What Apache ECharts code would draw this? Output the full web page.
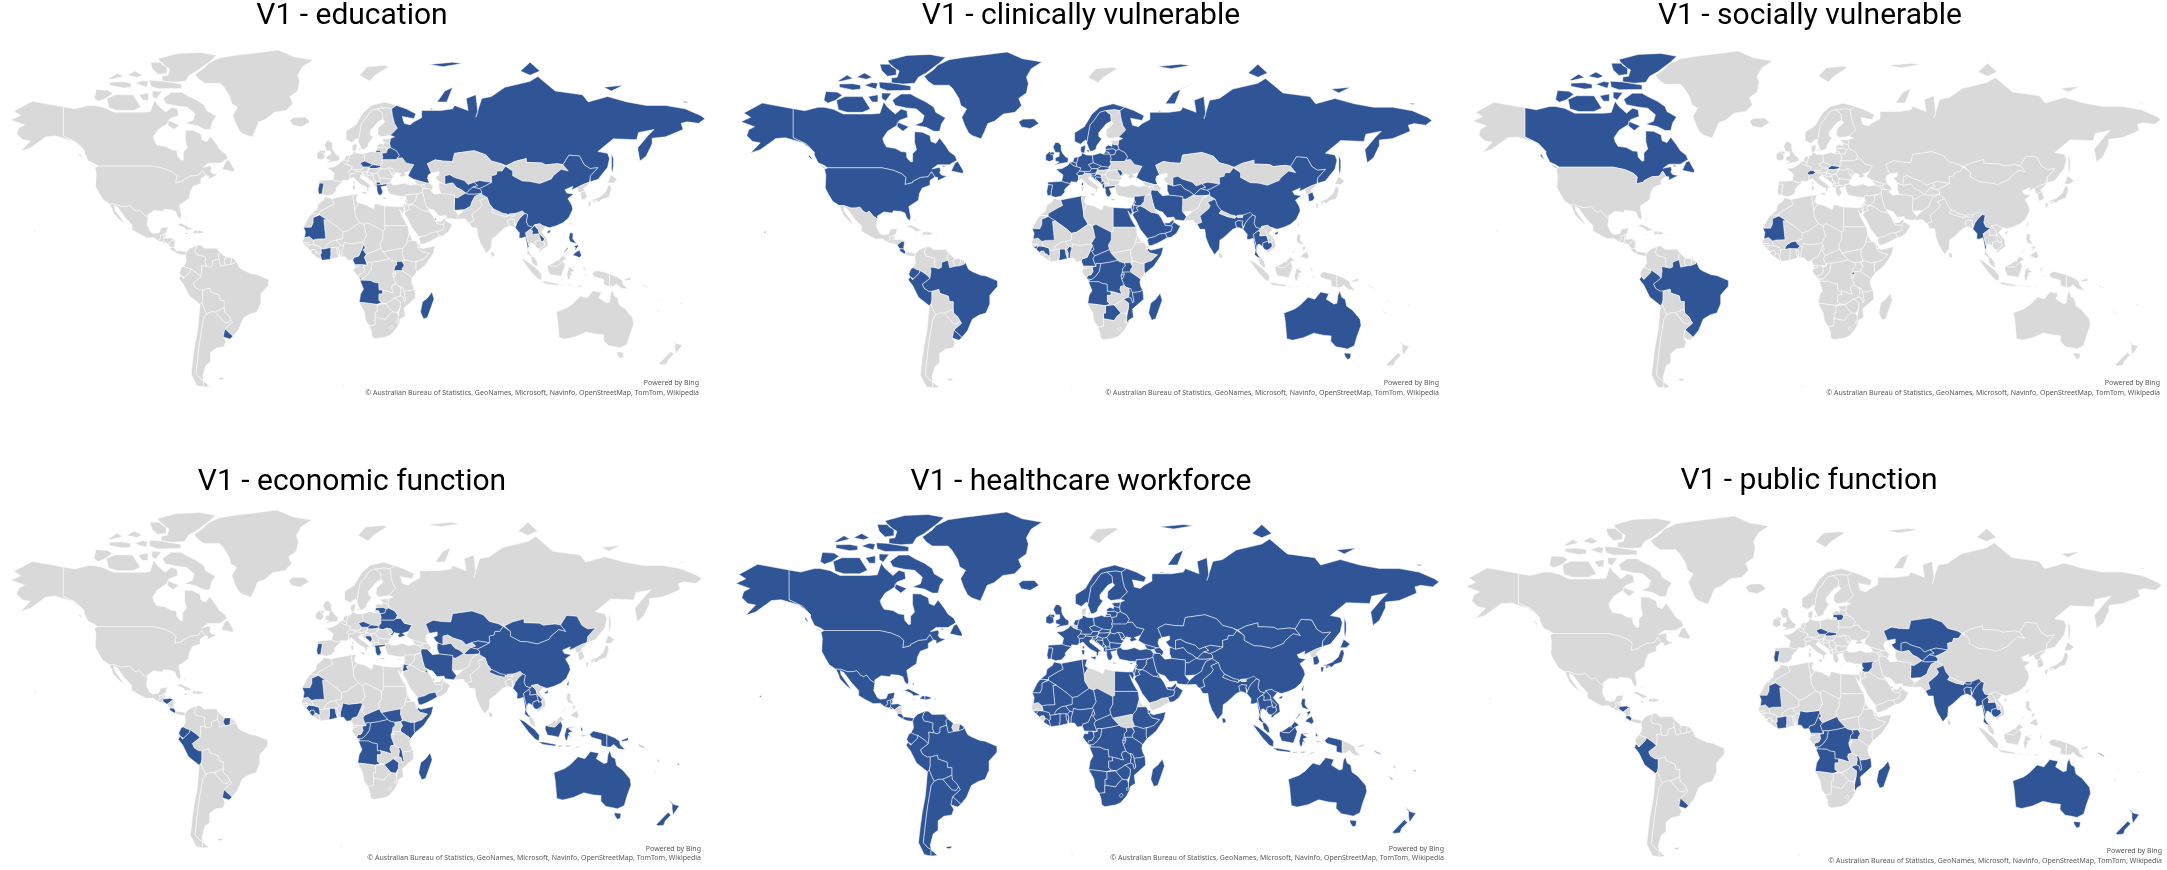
<!DOCTYPE html>
<html><head><meta charset="utf-8">
<style>html,body{margin:0;padding:0;background:#fff}#c{width:2167px;height:870px}</style>
<script src="https://cdn.jsdelivr.net/npm/echarts@6/dist/echarts.min.js"></script>
</head><body><div id="c"></div>
<script>
// ---- values: which countries are highlighted in each panel ----
const titles = ['V1 - education','V1 - clinically vulnerable','V1 - socially vulnerable','V1 - economic function','V1 - healthcare workforce','V1 - public function'];
const education = ['Russia','China','Belarus','Czechia','Slovakia','Greece','North Macedonia','Portugal','Uzbekistan','Kyrgyzstan','Tajikistan','Afghanistan','Qatar','Myanmar','Laos','Philippines','Mauritania','Ivory Coast','Cameroon','Uganda','Angola','Madagascar','Uruguay','Jamaica','Timor-Leste'];
const clinical = ['Canada','Greenland','USA','Iceland','Norway','Sweden','Denmark','UK','Ireland','Portugal','Spain','France','Belgium','Netherlands','Luxembourg','Germany','Poland','Czechia','Slovakia','Austria','Switzerland','Lithuania','Latvia','Belarus','Slovenia','Croatia','Bosnia','Moldova','Montenegro','Albania','Greece','Russia','China','Iran','Turkmenistan','Uzbekistan','Tajikistan','Kyrgyzstan','Israel','Jordan','Syria','Lebanon','Saudi Arabia','Yemen','Oman','UAE','Egypt','Algeria','Mauritania','Guinea-Bissau','Guinea','Ghana','Benin','Chad','Cameroon','CAR','Congo','DRC','Uganda','Rwanda','Burundi','Tanzania','Somalia','Angola','Malawi','Mozambique','Botswana','Madagascar','Myanmar','Thailand','Bangladesh','Cambodia','India','South Korea','Peru','Ecuador','Brazil','Uruguay','Nicaragua','Costa Rica','Australia'];
const social = ['Canada','Switzerland','Slovakia','Mauritania','Burkina Faso','Rwanda','Myanmar','Peru','Brazil'];
const economic = ['Lithuania','Belarus','Ukraine','Czechia','Slovakia','Bosnia','Greece','Portugal','Luxembourg','Kazakhstan','Turkmenistan','Tajikistan','Kyrgyzstan','Iran','Mongolia','China','Nepal','Myanmar','Thailand','Laos','Cambodia','Jordan','Kuwait','Qatar','Yemen','Somalia','Kenya','Mauritania','Guinea','Sierra Leone','Ghana','Nigeria','CAR','South Sudan','DRC','Congo','Angola','Malawi','Zimbabwe','Madagascar','Uruguay','Peru','Ecuador','Suriname','Honduras','Costa Rica','Indonesia','Timor-Leste','PNG','Australia','New Zealand','Solomon Islands','Vanuatu','Fiji','Taiwan','Jamaica','Mauritius'];
const healthcareExcluded = ['Libya','Yemen','South Sudan','Suriname','Senegal','Sierra Leone','Equatorial Guinea','Eritrea','Nicaragua','Svalbard','Belgium','Denmark','North Korea','PNG','Bhutan','Armenia','Bouvet','Qatar'];
const publicFn = ['Lithuania','Czechia','Slovakia','Luxembourg','Portugal','Syria','Kazakhstan','Uzbekistan','Kyrgyzstan','Tajikistan','Afghanistan','India','Myanmar','Thailand','Cambodia','Bangladesh','Bhutan','Qatar','Mauritania','Ivory Coast','Nigeria','Cameroon','CAR','DRC','Congo','Uganda','Angola','Malawi','Mozambique','Madagascar','Peru','Uruguay','Honduras','Costa Rica','Australia','New Zealand','Timor-Leste','Solomon Islands','Jamaica'];
const poweredBy = 'Powered by Bing';
const credit = '© Australian Bureau of Statistics, GeoNames, Microsoft, Navinfo, OpenStreetMap, TomTom, Wikipedia';

// ---- simplified country outlines, lon lat pairs ----
const outlines = {
Canada:['-141 69.6 -135 69 -128 70 -125 70 -120 69.4 -115 68 -110 68 -105 68 -100 68 -96 68.2 -94 71.5 -92 70 -90 69 -88 68 -85 69.5 -82 69 -81.5 67 -86 66 -87 64.5 -92 62.5 -94.5 60 -94 58.7 -92.5 57 -88 56.5 -85 55.3 -82.3 55.1 -82 53 -80 51.3 -79 51.5 -79 54.5 -77 56 -78 58.7 -78 62.3 -74 62.2 -70 61 -69.5 59 -67 58.3 -65 60.2 -62 57.5 -60 55.3 -57 53.7 -56 52 -60 50.2 -66 50.2 -69 48.5 -65 49.2 -64.5 48 -65 47 -64 46 -61 45.5 -60 46 -66 43.6 -66 45 -67.5 45.2 -69.2 47.4 -71 45.3 -75 45 -79 43.3 -79 42.8 -83 42 -82.5 45 -84.5 46.5 -89 48 -95 49 -123 49 -125 50 -128 51 -130 54 -130 55 -134 58 -137 59 -141 60.3',
'-80 73.7 -77 72.8 -72 71.5 -68 70 -67 68.5 -62 66.8 -64 65 -65 62.5 -68 62.5 -72 63.8 -78 64.5 -74 65.5 -73 67.5 -77 69.5 -82 69.8 -88 70.5 -89.5 72 -85 73.7','-90 76.6 -84 76.3 -78 76.5 -76 78 -72 79 -65 81.3 -62 82.5 -70 83.1 -82 82.9 -92 81.8 -90 80.5 -86 79.5 -87 78 -90 77.8','-117.5 69.3 -113 68.5 -105 68.5 -101 69.5 -101.5 70 -105 73 -109 73 -114 73 -118.5 72 -118 70.8','-125 72 -123 71.2 -119 72 -115.5 73.4 -118 74.2 -124 74.4','-96.5 76.8 -90 76.6 -80 75.8 -80 74.7 -92 74.6 -96 75.3','-117 75.5 -110 74.8 -106 75 -106 76 -110 76.4 -117 76.3','-96 81 -90.5 81 -87.5 79.8 -87.5 78.5 -92 78.2 -95 79.5','-95 74 -90 73.9 -93 71.8 -95 72.5','-102 73 -97 73.5 -97 71.5 -100 71.5','-87 65.5 -81 64 -84 62.5 -87 64','-59 47.7 -53 46.7 -52.7 47.7 -55.5 51.5 -57 51','-128 50.5 -123.5 48.4 -125 48.8','-104 79 -100 78 -103 77.5 -108 78','-116 77 -110 77.7 -113 78.5 -118 77','-104 76 -98 75 -97 76.5 -100 76.7','-64 49.5 -61.7 49.2 -63 49.9','-132.5 54 -131.5 53 -131 52 -133 53.5'],
USA:['-123 49 -95 49 -89 48 -84.5 46.5 -82.5 45 -83 42 -79 42.8 -79 43.3 -75 45 -71 45.3 -69.2 47.4 -67.5 45.2 -67 44.8 -70 43.7 -70 41.7 -74 40.5 -75.5 38 -76 35 -78 33.8 -81 32 -80 27 -80.5 25.2 -82 26.5 -83 29 -85 29.7 -89 30 -89.5 29 -94 29.5 -97.3 27.5 -97.2 26 -99.5 27.5 -101.5 29.8 -103 29 -104.5 29.7 -106.5 31.8 -108.2 31.4 -111 31.3 -114.8 32.5 -117.1 32.5 -120.5 34.5 -122.5 37.5 -124.3 40.4 -124 46 -124.7 48.3',
'-141 69.6 -141 60.3 -137 59 -134 58 -130 55 -133 57 -136 58.5 -145 60.3 -150 60 -152 59 -158 56 -163 54.8 -158 58.5 -162 59 -165 61 -164 63 -161 64 -168 65.6 -163 67 -166.5 68.3 -157 71.2 -150 70.5','-156 19 -155 19.5 -155.7 20.2 -156.1 20'],
Greenland:['-73 78.2 -71 77 -68 76 -60 76 -58 75 -55 72.5 -54 70.5 -51 69.5 -53.5 67 -52 64.5 -50 62 -48 61 -43.5 59.9 -42 62 -40 65 -36.5 65.8 -32 68 -26 68.5 -22.5 70.5 -24 72.5 -20 74 -19 76.5 -20 78 -17.5 80 -12 81.5 -22 82.2 -30 83.6 -42 83 -52 82.5 -60 82 -66 80.8 -68 79.8'],
Mexico:['-117.1 32.5 -114.8 32.5 -111 31.3 -108.2 31.4 -106.5 31.8 -104.5 29.7 -103 29 -101.5 29.8 -99.5 27.5 -97.2 26 -97.8 22.5 -96 19 -94.5 18.2 -91.5 18.5 -90.5 21 -87 21.5 -87.7 18.5 -88.3 18.4 -89.2 17.8 -91 17.3 -90.5 16 -92.2 14.5 -94.5 16.2 -98 16 -102 18 -105.5 20 -105.5 22.5 -109 26 -113 31 -114.8 31.8 -114.5 30 -110 24 -109.5 23 -112 25 -115 28 -116 30.5'],
Guatemala:['-92.2 14.5 -90.5 16 -91 17.3 -89.2 17.8 -89 15.9 -88.2 15.7 -89.3 14.4 -90 13.8'],Belize:['-89.2 17.8 -88.3 18.4 -88.2 16.2 -89 15.9'],Honduras:['-89 15.9 -88.2 15.7 -85.5 16 -83.2 15 -84.8 14.7 -87 13 -87.8 13.4 -89.3 14.4'],'El Salvador':['-90 13.8 -89.3 14.4 -87.8 13.4 -88.5 13.2'],Nicaragua:['-87 13 -84.8 14.7 -83.2 15 -83.7 11 -85.7 11.1'],'Costa Rica':['-85.7 11.1 -83.7 11 -82.6 9.5 -83 8.3 -85.7 10'],Panama:['-83 8.3 -82.6 9.5 -80 9.2 -77.4 8.7 -77.9 7.2 -80 7.3 -81.5 7.7'],
Cuba:['-85 22 -80 23.2 -75 20.8 -74.2 20.2 -77.5 19.9 -78.5 21 -82 22.5'],Haiti:['-74.4 18.4 -71.7 18 -71.7 19.7 -73 19.9'],'Dominican Rep':['-71.7 19.9 -69 19.3 -68.4 18.6 -71 18 -71.7 18'],Jamaica:['-78.3 18.4 -76.2 18 -77.5 17.9'],'Puerto Rico':['-67 18.4 -65.6 18.3 -66.5 17.9'],Bahamas:['-78.2 25.2 -77.2 26.6 -77.5 25'],Trinidad:['-61.6 10.7 -61 10.7 -61 10.1 -61.6 10.1'],
Colombia:['-77.4 8.7 -75.5 10.7 -71.3 12.4 -72.3 11.1 -72.9 9 -72 7.3 -70 7 -67.5 6.2 -67.8 3.5 -67 1.2 -69.8 1.7 -69.5 -0.5 -70 -4.2 -72 -2.3 -75.2 -0.1 -77 0.4 -78.8 1.4 -77.5 3.8 -77.9 7.2'],
Venezuela:['-71.3 12.4 -72.3 11.1 -72.9 9 -72 7.3 -70 7 -67.5 6.2 -67.8 3.5 -67 1.2 -65.5 0.8 -64 1.5 -64 4 -60.7 5.2 -61 7.5 -60 8.5 -62 10.7 -68 10.6 -70 12.2'],
Guyana:['-60 8.5 -61 7.5 -60.7 5.2 -60 2 -59.8 1.3 -57 2 -58 4 -57.2 6'],Suriname:['-57.2 6 -58 4 -57 2 -54.5 2.3 -54 5.9'],'French Guiana':['-54 5.9 -54.5 2.3 -52 3.2 -51.7 4.2'],
Brazil:['-51.7 4.2 -52 3.2 -54.5 2.3 -57 2 -59.8 1.3 -60 2 -60.7 5.2 -64 4 -64 1.5 -65.5 0.8 -67 1.2 -69.8 1.7 -69.5 -0.5 -70 -4.2 -74 -7.3 -73 -9.5 -70.6 -11 -69 -11 -65.4 -10 -65 -12 -60.5 -13.5 -60 -16.3 -58 -16.3 -58 -20 -57.8 -22 -55.5 -24 -54.6 -25.6 -53.7 -27 -57.6 -30.2 -53.4 -33.7 -50.5 -30.5 -48.5 -26 -48 -25 -44.5 -23 -41 -22 -39 -17.5 -39 -13 -35 -8.5 -35 -5.5 -37.5 -4.5 -41 -3 -44 -2.5 -48.5 -0.5 -50 0.5'],
Ecuador:['-78.8 1.4 -77 0.4 -75.2 -0.1 -75.5 -1.5 -78.5 -4.5 -79 -5 -80.3 -3.4 -81 -2 -80 0.5'],Peru:['-75.2 -0.1 -72 -2.3 -70 -4.2 -74 -7.3 -73 -9.5 -70.6 -11 -69 -11 -69 -15.5 -69.5 -17.5 -70.4 -18.3 -76 -14 -79 -8 -81.3 -5 -80.3 -3.4 -79 -5 -78.5 -4.5 -75.5 -1.5'],
Bolivia:['-69 -11 -65.4 -10 -65 -12 -60.5 -13.5 -60 -16.3 -58 -16.3 -58 -20 -62.6 -22 -65 -22 -67 -23 -68.5 -20 -69.5 -17.5 -69 -15.5'],
Chile:['-69.5 -17.5 -68.5 -20 -67 -23 -68.5 -25 -70 -33 -71 -39 -71.8 -45 -72.5 -50 -70 -52 -68.5 -52.5 -68.6 -55 -72 -54.5 -75 -50 -74 -43 -73 -37 -71.5 -30 -70.4 -18.3'],
Argentina:['-67 -23 -65 -22 -62.6 -22 -58 -27 -55.8 -27.3 -54.6 -25.6 -53.7 -27 -57.6 -30.2 -58.4 -34 -57 -36 -58 -38.5 -62 -39 -65 -41 -65 -45 -67.5 -46.5 -69 -51 -68.5 -52.5 -70 -52 -72.5 -50 -71.8 -45 -71 -39 -70 -33 -68.5 -25','-68.6 -52.7 -65.3 -54.8 -68.6 -55'],
Paraguay:['-62.6 -22 -58 -20 -57.8 -22 -55.5 -24 -54.6 -25.6 -55.8 -27.3 -58 -27'],Uruguay:['-57.6 -30.2 -53.4 -33.7 -55 -35 -58.4 -34'],Falklands:['-61 -51.5 -58 -51.3 -58.5 -52.2 -60.5 -52.2'],
Iceland:['-24 65.5 -22 66.4 -16 66.5 -13.6 65 -18 63.4 -22.5 63.9'],Ireland:['-10 52 -10 54 -8 55.3 -7.3 55 -6.2 54 -6 52.2 -8 51.5'],
UK:['-5.7 50 -3 50.6 1.4 51.2 1.7 52.7 0 53.5 -1.5 55 -2 56 -2 57.6 -3.5 58.6 -5 58.6 -6.2 57 -5 55 -3 55 -3 53.5 -5 53 -5 51.7 -3 51.3','-8 54.5 -7.3 55 -6 55.2 -5.5 54.5 -6.2 54'],
France:['-1.8 43.4 -1 46 -4.7 48.4 -1.5 48.7 1.5 50 2.5 51.1 4.2 50 6 49.5 8.2 49 7.6 47.6 6 46.5 7 45.8 7 44 7.5 43.8 6 43 3 43.2 3.1 42.4 0.7 42.7','8.6 42.5 9.4 43 9.5 42 9.1 41.4 8.6 41.9'],
Spain:['-9 43 -1.8 43.4 0.7 42.7 3.1 42.4 0.7 40.7 -0.3 39.5 0 38.7 -2 36.8 -5 36.3 -6.3 36.7 -7.4 37.2 -7 39.5 -6.5 41.8 -8.8 41.9'],Portugal:['-8.8 41.9 -6.5 41.8 -7 39.5 -7.4 37.2 -9 37 -9.5 38.8'],
Belgium:['2.5 51.1 4 51.4 6 50.8 6 49.5 4.2 50'],Netherlands:['4 51.4 4.8 53 7 53.3 6 50.8'],Luxembourg:['5.7 49.5 6.5 49.5 6.1 50.2'],Germany:['6 50.8 7 53.3 8.5 53.8 8.7 54.9 11 54 14.2 53.9 14.7 51 12.2 50.3 13.8 48.7 13 47.5 7.6 47.6 8.2 49 6 49.5'],
Switzerland:['6 46.5 7.6 47.6 9.6 47.5 10.4 46.8 9 45.9 7 45.8'],Austria:['9.6 47.5 13 47.5 13.8 48.7 17 48.7 16.2 46.9 13.7 46.5 10.4 46.8'],
Italy:['7 44 7 45.8 9 45.9 10.4 46.8 13.7 46.5 13.6 45.6 12.3 45 12.4 44.2 13.6 43.5 16 42 18.5 40.2 16.9 40.4 16.6 38.9 15.8 38 15.7 40 12.5 41.4 10.5 42.9 8.8 44.4 7.5 43.8','12.4 38 15.6 38.2 15.1 36.7','8.2 41 9.7 41 9.5 39.1 8.5 39'],
Denmark:['8.1 55.5 8.7 54.9 10 54.8 10.5 56.3 10.6 57.7 8.2 57','11 55.7 12.5 56 12.3 55'],Norway:['5 59 5 62 10 64 14 68 18 70 25 71 31 70 28.5 69 25.7 69.3 21 69 18 68.5 15 66 13 64.5 12 61 11.5 59 10.6 59.5 8 58'],
Svalbard:['12 78 16 80 25 80.3 27 80 20 78 17 76.6'],
Sweden:['11.5 59 12 61 13 64.5 15 66 18 68.5 21 69 23.7 67.8 24 65.8 21.5 65 17.5 62 17.5 60.7 19 59.9 16.5 57.5 16 56.2 14.3 55.5 13 55.4 11.2 58.5'],
Finland:['21 69 25.7 69.3 28.5 69 29 66.9 30 64.5 31.5 62.9 27.8 60.5 23 60 21.3 61 21.5 63 25 65 24 65.8 23.7 67.8'],
Estonia:['23.5 59.2 28 59.4 27.5 57.6 25 57.9 24.4 58.3'],Latvia:['21 57 22.6 57.7 24.4 57.2 24.4 58.3 25 57.9 27.5 57.6 28 56.1 26.5 55.7 25 56.3 21 56.1'],Lithuania:['21 56.1 25 56.3 26.5 55.7 25.8 54.2 23.5 54 22.8 54.4 22.8 55 21 55.2'],
Poland:['14.2 53.9 18.5 54.8 19.5 54.4 22.8 54.4 23.5 54 24 52.6 23.5 51.5 24 50.5 22.7 49.2 19 49.4 18.8 49.6 14.7 51'],
Belarus:['23.5 54 25.8 54.2 26.5 55.7 28 56.1 31 55 32.5 53.3 31.5 52.1 30.7 51.5 23.5 51.5 24 52.6'],
Ukraine:['24 50.5 23.5 51.5 30.7 51.5 31.5 52.1 34 52.3 36 50.3 40 49.6 38.2 47.1 35 46.2 36.5 45.3 33.5 44.5 32.5 45.4 33.5 46 30.8 46.5 29.7 45.3 28.3 45.5 30 46.5 29 48 26.7 48.3 24.9 47.7 22.8 48 22.7 49.2'],
Moldova:['26.7 48.3 29 48 30 46.5 28.3 45.5 28 46.5'],Czechia:['12.2 50.3 14.7 51 18.8 49.6 17 48.7 13.8 48.7'],Slovakia:['17 48.7 18.8 49.6 19 49.4 22.7 49.2 22.8 48.4 20 48 17.2 48'],
Hungary:['16.2 46.9 17.2 48 20 48 22.8 48.4 21 46.2 18.8 45.9 16.6 46.5'],Slovenia:['13.7 46.5 16.2 46.9 16.6 46.5 15.5 45.6 13.6 45.6'],
Croatia:['13.6 45.6 15.5 45.6 16.6 46.5 18.8 45.9 19 45 16 45.2 15.8 44.5 18.5 42.5 15 44.5 14.5 45.2 13.6 44.9'],Bosnia:['16 45.2 19 45 19.3 43.5 18.5 42.5 15.8 44.5'],
Serbia:['19 45 18.8 45.9 21 46.2 22.5 44.2 22.5 42.3 20.5 42.3 20.5 42.8 19.3 43.5'],Montenegro:['19.3 43.5 20.5 42.8 19.3 41.9 18.5 42.5'],'North Macedonia':['20.5 42.3 22.5 42.3 23 41.3 20.5 41'],
Albania:['19.3 41.9 20.5 42.5 20.5 41 20.9 40 19.4 40.5'],Greece:['20.9 40 20.5 41 23 41.3 26.2 41.7 26 40.8 23 40.3 24 38 23 36.5 21.7 36.8 21 38.4','23.6 35.5 26.3 35.2 24.8 35'],
Bulgaria:['22.5 44.2 28.5 43.7 27.8 42 26.2 41.7 23 41.3 22.5 42.3'],Romania:['21 46.2 22.8 48 24.9 47.7 26.7 48.3 28 46.5 28.3 45.5 29.7 45 28.5 43.7 22.5 44.2'],
Turkey:['26 40.8 26.2 41.7 28 42 29.2 41.2 31.5 41.2 35 42 38 41 41.5 41.5 43.5 41 44.8 39.7 44.5 37.8 42.3 37.2 38 36.8 36 36.8 36 36 32.5 36.1 30.5 36.5 27.5 37 26.2 39.3'],Cyprus:['32.3 35 34.5 35.6 33.5 34.7'],
Russia:['28 59.4 30 60 27.8 60.5 31.5 62.9 30 64.5 29 66.9 28.5 69 31 70 36 69 41 67.5 40 66 34 66.7 35 64.5 38 64 40 65 44 66.3 44 68.5 54 68.5 60 69 61 70 68 68.5 67 72 72 73 73 68 72 66.5 75 72 80 72.5 87 75 100 76.5 104 77.7 113 74 127 73 130 71 140 72.5 150 71 160 70 170 70 180 69 188 67 190.3 66 187 64.5 181 65 178 64.5 179 62.5 170 60 163 59.5 163 57.5 160 53 156.7 51 155.5 56 161 60.5 164 62.5 156 61.5 155 59 143 59.3 135 54.7 140 54 141 52 140 48.5 135 43.5 131 42.5 130.7 42.3 131 44.8 135 48.4 131 48 128 49.5 125.5 53 120 53.3 117 49.6 114 50 108 49.5 106 50.3 98 50.5 98 52 92 50.8 87.8 49.2 87.3 49 85 50 80 51 77 53.5 71 55 61 54 60 50.8 55 51 51 51.5 47 50 49 46.2 47.5 45.5 47 44 48 42 46.5 41.9 43.5 42.6 40 43.5 37 45 38.2 47.1 40 49.6 36 50.3 34 52.3 31.5 52.1 32.5 53.3 31 55 28 56.1 27.5 57.6',
'142 54 143 52 143 49 142.5 46 142 48 142 51','52 71 56 74 68 76.8 60 75 57 71','95 79 100 81 105 79 100 78','138 75 148 75.5 142 74','178.5 71.2 182 71 180 70.8','48 80.5 60 81 65 80.7 55 80','20 54.4 22.8 54.4 22.8 55 21 55.2','48 69 50 69 49 68.7'],
Kazakhstan:['47 50 51 51.5 55 51 60 50.8 61 54 71 55 77 53.5 80 51 85 50 87.3 49 85.5 47 83 47 82.5 45.5 80 45 80.2 42.2 74 43 71 42.3 68 41.3 66 43 61 44.3 58.5 45.5 56 45 56 41.3 54 42 52.5 42.8 51 44.5 53 45.3 53 46.8 49 46.2'],
Uzbekistan:['56 45 58.5 45.5 61 44.3 66 43 68 41.3 71 42.3 73 40.8 70.5 40.2 68 38.3 67 37.3 64.5 39 62 40 60 42 56 41.3'],Turkmenistan:['53 42 54 42 56 41.3 60 42 62 40 64.5 39 67 37.3 66.5 37.4 62.5 35.3 61 35.6 61 36.6 54 37.3 53 39.5'],
Tajikistan:['68 38.3 70.5 40.2 73.8 39.5 75 38.5 74.8 37.3 71.5 37 68 37 67 37.3'],Kyrgyzstan:['71 42.3 74 43 80.2 42.2 76 40.3 73.8 39.5 70.5 40.2 73 40.8'],
Afghanistan:['61 35.6 62.5 35.3 66.5 37.4 68 37 71.5 37 74.8 37.3 71.5 36 70 33.5 69.3 31.5 66.4 29.9 61 29.5 60.8 30.5 61 33.5'],
Pakistan:['61 29.5 61.6 25.2 66.5 25.4 67.5 24 68.5 23.5 71 24.5 70 27.5 74.5 31 75.3 32.4 74 34 77.8 35.5 74.8 37.3 71.5 36 70 33.5 69.3 31.5 66.4 29.9 63 27.2'],
Iran:['44.8 39.7 48 39.5 49 38.4 50.5 37 54 37.3 61 36.6 61 35.6 61 33.5 60.8 30.5 61 29.5 63 27.2 61.6 25.2 57 25.7 56.5 27 53 26.7 50.5 29.5 48.5 30 46.5 31 45.5 34 44.5 37.8'],
Iraq:['42.3 37.2 44.5 37.8 45.5 34 46.5 31 48.5 30 47.5 30 46.5 29.1 44.7 29.2 41 31.5 39 32.3 41 34.5 41.2 36.5'],Syria:['36 36.8 38 36.8 42.3 37.2 41.2 36.5 41 34.5 39 32.3 36.8 32.4 35.8 33.3 36.6 34.3 36 34.7 35.9 35.5'],
Lebanon:['35.1 33.1 35.8 33.3 36.6 34.3 36 34.7'],Israel:['34.3 31.3 35.1 33.1 35.7 32.7 35.5 31.5 35 29.5'],Jordan:['35.7 32.7 36.8 32.4 39 32.3 37 31.5 38 30 36 29.3 35 29.5 35.5 31.5'],
'Saudi Arabia':['36 29.3 38 30 37 31.5 39 32.3 41 31.5 44.7 29.2 46.5 29.1 48.4 28.5 50 26.5 51 24.6 52 23 55.2 22.7 55.7 22 55 20 52 19 49 18.6 46.5 17.3 43.3 16.5 42.7 16.5 39 21 37 25 35 28'],
Kuwait:['46.5 29.1 47.5 30 48.4 28.5'],Qatar:['50.8 24.8 51.2 26 51.6 25'],UAE:['51.6 24.2 54 24.1 56.3 26 56.4 24.6 55.2 22.7 52 23'],Oman:['56.4 24.6 59.8 22.5 57.8 19 55 17 53 16.7 52 19 55 20 55.7 22 55.2 22.7'],Yemen:['43.3 16.5 46.5 17.3 49 18.6 52 19 53 16.7 48 14 45 12.8 43.5 12.7 42.7 15.5'],
Georgia:['40 43.5 43.5 42.6 46.5 41.9 45 41.2 43.5 41 41.5 41.5'],Armenia:['43.5 41 45 41.2 46.5 39.5 44.8 39.7'],Azerbaijan:['45 41.2 46.5 41.9 48 42 50 40.3 49 38.4 48 39.5 46.5 39.5'],
Mongolia:['87.8 49.2 92 50.8 98 52 98 50.5 106 50.3 108 49.5 114 50 117 49.6 119.7 47 116 47.7 112 45 111 43.7 105 41.7 100 42.6 96 42.8 91 45 91 47'],
China:['73.8 39.5 76 40.3 80.2 42.2 80 45 82.5 45.5 83 47 85.5 47 87.3 49 87.8 49.2 91 47 91 45 96 42.8 100 42.6 105 41.7 111 43.7 112 45 116 47.7 119.7 47 117 49.6 120 53.3 125.5 53 128 49.5 131 48 135 48.4 131 44.8 130.7 42.3 128 41.5 124.3 40 121.5 39 122 40.5 118 39 119 37.5 122.5 37 119.5 35 121.5 32 122 30 120 26 117 23.5 113.5 22 110 21 108 21.6 106.5 22 105 23 102 22.4 101.5 21.2 99 22 98 24 98.7 27.5 96 28.5 92 28 89 27.3 86 28 81 30.2 79 32.5 77.8 35.5 75 37 74.8 37.3 75 38.5','108.7 19 110.5 20 110.5 18.7 109 18.3'],
Taiwan:['120.2 23 121.5 25.2 121 22'],'North Korea':['124.3 40 128 41.5 130.7 42.3 129.7 41 127.5 39.5 128.3 38.6 126 37.8 125 38'],'South Korea':['126 37.8 128.3 38.6 129.4 36 128.5 34.8 126.5 34.4'],
Japan:['131 34 136 35.7 139 38 140.3 41 141.5 41 142 39.5 140.7 35.7 137 34.6 135.7 33.5 132 34','140 42 141.7 45.5 145 43.5 143 42','130 33.5 131.7 33.5 131 31.2 130.2 31.3','132.5 34 134.5 34.2 134 33.4 133 32.8'],
India:['74 34 77.8 35.5 79 32.5 81 30.2 80 28.8 84 27.3 88.1 26.4 88.8 27.3 89.8 26.8 92 26.8 92 27.8 96 29.3 97.3 28 95 26 93.5 24 92.7 22 91.8 24 92.3 25 89.8 25.3 88.3 24.5 89 21.8 87 21 82.5 17 80.3 15.5 80 11 77.5 8 74.5 13 73 17 72.5 21 70 21 68.5 23.5 71 24.5 70 27.5 74.5 31 75.3 32.4'],
Nepal:['80 28.8 81 30.2 86 28 88.1 27.8 88.1 26.4 84 27.3'],Bhutan:['88.8 27.3 89.3 27.9 92 28 92 26.8 89.8 26.8'],Bangladesh:['88.3 24.5 89.8 25.3 92.3 25 91.8 24 92.3 21 90 21.9 89 21.8'],'Sri Lanka':['79.8 9 81.3 8.5 81.8 7 80.5 6 79.8 7.5'],
Myanmar:['92.3 21 92.7 22 93.5 24 95 26 97.3 28 98.7 27.5 98 24 99 22 101.5 21.2 100.2 20.3 97.7 18.5 98.5 15 99.5 11.5 98.7 10 98.5 12 97.6 16.5 95.5 15.8 94.3 16 94.5 18.5'],
Thailand:['100.2 20.3 101.3 19.5 101 17.7 104.5 18 105.5 15 102.7 14.2 102.5 12.2 100.9 13.4 100 13.3 99.2 9.5 100.5 7.3 102 6.2 100.2 6.5 98.3 8 98.7 10 99.5 11.5 98.5 15 97.7 18.5'],
Laos:['100.2 20.3 101.5 21.2 102 22.4 104.3 20 104.8 18 107.5 15.5 107 14.3 105.5 14 105.5 15 104.5 18 101 17.7 101.3 19.5'],
Vietnam:['102 22.4 105 23 106.5 22 108 21.6 105.8 19 108.8 15.5 109.3 12 106.7 10.3 105 8.7 104.7 10.4 106 11 107.5 12.5 107 14.3 107.5 15.5 104.8 18 104.3 20'],Cambodia:['102.5 12.2 102.7 14.2 105.5 15 105.5 14 107 14.3 107.5 12.5 106 11 104.7 10.4 103.5 10.7'],
Malaysia:['100.2 6.5 102 6.2 103.5 4 104 1.4 103 1.5 101 3.3','109.6 2 111 1.5 114 1.2 117 4.2 119 5.2 116.8 7 115.1 5 114 4.5 111.5 2.8'],Brunei:['114 4.5 115.1 5 115.1 4.1'],
Indonesia:['95.3 5.6 98 4.3 103.5 0 106 -3 105.8 -5.8 104 -5.2 100.5 -1.5 97.5 2.5','105.5 -6.5 108 -6.5 114.5 -7.7 114.5 -8.6 108 -7.8','109 1.5 109.6 2 111 1.5 114 1.2 117 4.2 118 2 117.5 0 116 -4 114 -3.5 110.2 -2.9 109 0','119.5 -5.5 119 -3 120 0.8 125 1.5 121 0.4 123.3 -1 121 -1.8 122.5 -4.5 121 -3 120.4 -5.5','132 -2.5 134 -0.8 138 -1.7 141 -2.6 141 -9.1 138 -8.3 138 -5.5 133 -4','116 -8.4 119 -8.3 119 -8.8 116 -8.9','120 -8.3 123 -8.3 123 -8.8 120 -8.9','123.5 -10.3 125 -9 125 -9.4 124 -10.2','127.5 1.7 128.5 0 128 -1 127.5 0','128 -3 130.8 -3.3 128 -3.5'],
'Timor-Leste':['125 -9 127.3 -8.4 125 -9.4'],Philippines:['120.5 18.5 122.2 18.4 122 15.5 124 13 120.7 14 120 16','122 7 123.5 8.6 125.5 9.7 126.5 7 125.5 5.7 124 6.5','122.5 11.5 123.5 11 123 9.3 125 11.8 125.5 10.5 124.5 12.5','117.2 8.4 119.5 11.3 119.5 10.5 117.5 8.3'],
PNG:['141 -2.6 145 -4.3 147.5 -6 148 -8 150.5 -10.5 147 -10 144.5 -7.7 143 -9 141 -9.1','148.5 -5.6 152 -4.2 152 -5.7 149 -6.2'],'Solomon Islands':['157 -7.5 160 -9 161 -10 158 -8.5'],Vanuatu:['167 -15 167.8 -16 168.3 -17 167.3 -16'],Fiji:['177.3 -17.5 178.7 -17.7 178 -18.3'],'New Caledonia':['164 -20.2 167 -22 166.3 -22.2'],
'New Zealand':['172.7 -34.5 175.5 -37 178.5 -37.7 175.3 -41.6 174.8 -39 174.8 -37','172.7 -40.6 174.2 -41.7 171.2 -44.3 170.5 -46 167.5 -46.3 166.5 -45.8 171 -42'],
Australia:['113.5 -22 114.2 -26 115 -34.3 118 -35 123.5 -33.9 129 -31.7 134 -32.7 138 -33 137.8 -35.5 140.5 -38 144 -38.5 146.5 -39 150 -37.5 151.5 -33 153.5 -28 153 -25 149 -20.5 146 -18.5 145.3 -15 143.5 -14 142.5 -10.8 141.5 -13 141 -17 139.5 -17.5 135.5 -15 136.8 -12.2 132.5 -11.3 129.5 -15 126 -14 122 -18 119 -20 114 -21.8','144.7 -40.7 148.3 -41 148 -43 146.5 -43.6 145.2 -42.2'],
Morocco:['-5.9 35.8 -2.2 35.1 -1.2 32.5 -3.5 31.5 -8.7 28.7 -8.7 27.7 -13 27.7 -10 30 -9.5 32.5 -6.7 34.3'],'Western Sahara':['-13 27.7 -8.7 27.7 -8.7 27.3 -12 26 -12 23.5 -13 21.3 -17 21.3 -14.5 26'],
Algeria:['-2.2 35.1 9 37 8.5 36 9.5 30 9.8 27 12 23.5 6 19.5 3.3 19 1 21 -4.8 25 -8.7 27.3 -8.7 28.7 -3.5 31.5 -1.2 32.5'],Tunisia:['9 37 11 37 10 34 11.5 33 9.5 30 8.5 36'],Libya:['11.5 33 15 32.3 19 30.3 20 32.7 25 31.6 25 20 24 19.5 16 23.5 14.2 22.6 12 23.5 9.8 27 9.5 30'],
Egypt:['25 31.6 32 31.2 34.3 31.3 34.9 29.5 34.2 27.8 32.6 30 33.8 27 35.5 24 36.9 22 25 22'],Sudan:['25 22 36.9 22 37.5 18 36.5 14.3 36 12.7 34.2 10.5 33 10.5 28 9.5 24 8.7 23 10.7 22.5 13 24 15.7 24 19.5 25 20'],
'South Sudan':['24 8.7 28 9.5 33 10.5 34.2 10.5 34 8 35 5 33.8 4 30.8 3.7 28 4.5 27.3 5.2'],Eritrea:['36.5 14.3 37.5 18 39 15.3 43 12.5 41 14.5 38.5 14.4'],Djibouti:['42 12.7 43.3 12.5 43.2 11.3 42 11'],
Ethiopia:['36.5 14.3 38.5 14.4 41 14.5 42 12.7 42 11 43.2 11.3 42.7 10.5 44 9 48 8 45 5 42 4 39.5 3.5 35.9 4.6 35 5 34 8 34.2 10.5 36 12.7'],Somalia:['43.2 11.3 44.5 10.4 51 11.9 50 8 46 2 41.5 -1.7 41 -0.5 41 3.9 42 4 45 5 48 8 44 9 42.7 10.5'],
Kenya:['35.9 4.6 39.5 3.5 42 4 41 3.9 41 -0.5 41.5 -1.7 39.2 -4.7 37.7 -3.5 34 -1 33.9 0.1 35 1.9 34 4.2'],Uganda:['30.8 3.7 33.8 4 35 1.9 33.9 0.1 34 -1 30.5 -1 29.6 -1.4 30 1 31.2 2.2'],Rwanda:['29.6 -1.4 30.5 -1 30.8 -2.3 29 -2.7'],Burundi:['29 -2.7 30.8 -2.3 30 -4.3 29.3 -4.4'],
Tanzania:['30.5 -1 34 -1 37.7 -3.5 39.2 -4.7 38.8 -6.5 39.5 -9 40.4 -10.5 38 -11.3 34.9 -11.6 34 -9.5 32 -9 30.7 -8 29.3 -4.4 30 -4.3 30.8 -2.3'],
DRC:['12.2 -6 13 -5.9 12.3 -5.7 13 -4.7 14 -4.7 16 -3 17.8 -0.5 18.5 3.5 22.5 4.1 27.3 5.2 28 4.5 30.8 3.7 31.2 2.2 30 1 29.6 -1.4 29 -2.7 29.3 -4.4 30.7 -8 28.9 -8.5 28.5 -10 29.6 -12.5 28 -12.2 27 -11.8 23.8 -11 22 -11 21.8 -7.3 19.5 -7 17.5 -6'],
Congo:['11.2 -4.2 12.3 -5 14 -4.7 16 -3 17.8 -0.5 18.5 3.5 16 3.5 16 2 14 1.5 14.5 -0.5 13.5 -2.4 11.8 -2.7'],Gabon:['9.5 1 11.3 1 11.3 2.2 13.3 2.2 14 1.5 14.5 -0.5 13.5 -2.4 11.8 -2.7 11.2 -4.2 8.8 -1'],'Equatorial Guinea':['9.5 2.2 11.3 2.2 11.3 1 9.5 1'],
Cameroon:['8.5 4.6 9.5 2.2 11.3 2.2 13.3 2.2 16 2 14.5 6 15.5 7.5 13.8 10 15 10.5 14.2 13 13 10 11.5 6.7 8.8 5.8'],CAR:['14.5 6 16 2 16 3.5 18.5 3.5 22.5 4.1 27.3 5.2 24 8.7 23 10.7 19 9 15.5 7.5'],
Chad:['14.2 13 15 10.5 13.8 10 15.5 7.5 19 9 23 10.7 22.5 13 24 15.7 24 19.5 16 23.5 14.2 22.6 15.5 17 13.5 13.7'],Nigeria:['2.7 6.3 4.5 6.3 6 4.3 8.5 4.6 8.8 5.8 11.5 6.7 13 10 14.2 13 13.5 13.7 10 13.3 7 13 4 13.7 3.6 11.7 2.8 9'],
Niger:['0 14.9 1 13.3 2.3 12.3 3.6 11.7 4 13.7 7 13 10 13.3 13.5 13.7 15.5 17 14.2 22.6 12 23.5 6 19.5 3.3 19 3.3 15.7'],Benin:['1.7 6.3 2.7 6.3 2.8 9 3.6 11.7 2.3 12.3 0.9 10.9 1.6 9'],Togo:['1.2 6.1 1.7 6.3 1.6 9 0.9 10.9 0 11 0.5 8'],Ghana:['-3 5 1.2 6.1 0.5 8 0 11 -2.9 11 -2.9 7 -3.2 6'],
'Burkina Faso':['-5.5 10.5 -2.9 11 0 11 0.9 10.9 2.3 12.3 1 13.3 0 14.9 -2 14.5 -4.5 13 -5.5 11.5'],'Ivory Coast':['-7.6 4.4 -3 5 -3.2 6 -2.9 7 -2.9 11 -5.5 10.5 -8 10.3 -7.8 8 -8.5 7.5'],Liberia:['-11.4 6.9 -7.6 4.4 -8.5 7.5 -9.5 8.5 -10.3 8.5'],'Sierra Leone':['-13.2 8.5 -11.4 6.9 -10.3 8.5 -11 10 -12.5 10'],
Guinea:['-15 11 -13.2 9.2 -12.5 10 -11 10 -10.3 8.5 -9.5 8.5 -8.5 7.5 -7.8 8 -8 10.3 -8.3 11.5 -11.4 12.4 -13.7 12.6'],'Guinea-Bissau':['-16.7 12.3 -13.7 12.6 -15 11'],Senegal:['-17.5 14.7 -16.5 16 -14 16.6 -12 14.9 -11.4 12.4 -13.7 12.6 -16.7 12.3'],Gambia:['-16.8 13.6 -13.9 13.6 -13.9 13.2 -16.8 13.2'],
Mali:['-12 14.9 -11.4 12.4 -8.3 11.5 -8 10.3 -5.5 10.5 -5.5 11.5 -4.5 13 -2 14.5 0 14.9 3.3 15.7 3.3 19 1 21 -4.8 25 -6.5 25 -5.5 15.5 -10 15.4'],Mauritania:['-17 21.3 -13 21.3 -12 23.5 -12 26 -8.7 27.3 -4.8 25 -6.5 25 -5.5 15.5 -10 15.4 -12 14.9 -14 16.6 -16.5 16 -16 19'],
Angola:['12.2 -6 13 -5.9 17.5 -6 19.5 -7 21.8 -7.3 22 -11 23.8 -11 24 -13 22 -13 22 -16.2 23.4 -17.6 20.9 -18.3 14 -17.4 11.8 -17.3 12.5 -13 14 -10.5 13 -8','12 -4.5 13 -4.7 12.3 -5.7'],
Zambia:['22 -13 24 -13 23.8 -11 27 -11.8 28 -12.2 29.6 -12.5 28.5 -10 28.9 -8.5 30.7 -8 32 -9 33 -9.5 33.5 -11 33 -14 30.2 -15 28.9 -16 26 -17.8 23.4 -17.6 22 -16.2'],Malawi:['33 -9.5 34 -9.5 34.9 -11.6 35.8 -16 35 -17 34.3 -14.5 33 -14 33.5 -11'],
Mozambique:['40.4 -10.5 40.8 -15 38 -17.5 35 -20 35.5 -24 33 -25.5 32.8 -26.8 32 -26 32 -24 32.8 -20 33 -17 30.2 -15 33 -14 34.3 -14.5 35 -17 35.8 -16 34.9 -11.6 38 -11.3'],Zimbabwe:['26 -17.8 28.9 -16 30.2 -15 33 -17 32.8 -20 31.5 -22.3 29 -22 25.3 -17.8'],
Botswana:['21 -18.3 23.4 -17.6 25.3 -17.8 29 -22 27 -23.6 25.5 -25.7 23 -25.3 20 -24.8 20 -22 21 -22'],Namibia:['11.8 -17.3 14 -17.4 20.9 -18.3 25.3 -17.8 21 -18.3 21 -22 20 -22 20 -28.4 17 -28.7 15 -26 14.4 -22'],
'South Africa':['17 -28.7 20 -28.4 20 -24.8 23 -25.3 25.5 -25.7 27 -23.6 29 -22 31.5 -22.3 32 -24 32 -26 32.8 -26.8 31 -30 28 -33 25.7 -34 20 -34.8 18.4 -34 18 -31'],Lesotho:['27.2 -29.6 28.7 -28.7 29.3 -29.8 28 -30.6'],Eswatini:['31 -26 32 -26 32 -27.2 31 -27.2'],
Madagascar:['49.3 -12 50.4 -15.5 47 -24.8 45 -25.5 43.4 -22 44.4 -17 47 -15'],Mauritius:['57.3 -20 57.8 -20 57.6 -20.5'],Bouvet:['3 -54.2 3.6 -54.2 3.6 -54.7 3 -54.7']
};

const features = Object.keys(outlines).map(name => ({
  type:'Feature', properties:{name},
  geometry:{type:'MultiPolygon', coordinates: outlines[name].map(ring => {
    const n = ring.trim().split(/\s+/).map(Number), pts = [];
    for (let i=0;i<n.length;i+=2) pts.push([n[i],n[i+1]]);
    pts.push(pts[0]);
    return [pts];
  })}
}));
// one registered map per panel: ECharts merges map series that share a map name
titles.forEach((t,i)=>echarts.registerMap('world'+i,{type:'FeatureCollection',features}));

// Miller cylindrical projection, as used by the reference's base map
const rad = Math.PI/180;
const miller = {
  project: p => [p[0], -1.25*Math.log(Math.tan(Math.PI/4+0.4*p[1]*rad))/rad],
  unproject: p => [p[0], (Math.atan(Math.exp(-p[1]*rad/1.25))-Math.PI/4)/(0.4*rad)]
};

const all = Object.keys(outlines);
const highlighted = [education, clinical, social, economic, all.filter(n=>!healthcareExcluded.includes(n)), publicFn];
const boxes = [[11,50,694,337],[741,52,691,336],[1473,51,688,337],[11,510,691,338],[736,512,703,344],[1466,516,696,341]];
const titleAt = [[352,16],[1081,16],[1810,16],[352,482],[1081,482],[1809,481]];
const creditAt = [[699,383,393],[1439,383,393],[2160,383,393],[701,849,858],[1444,849,858],[2162,851,861]];
const BLUE='#2F5597', GREY='#D9D9D9';

const titleOpts=[], seriesOpts=[], gfx=[];
titles.forEach((t,i)=>{
  titleOpts.push({text:t,left:titleAt[i][0],top:titleAt[i][1]-18,textAlign:'center',padding:0,
    textStyle:{fontFamily:'Roboto',fontWeight:400,fontSize:30,color:'#000',lineHeight:36}});
  seriesOpts.push({type:'map',map:'world'+i,projection:miller,roam:false,silent:true,
    left:boxes[i][0],top:boxes[i][1],width:boxes[i][2],height:boxes[i][3],
    label:{show:false},emphasis:{disabled:true},select:{disabled:true},selectedMode:false,
    itemStyle:{areaColor:GREY,borderColor:'#fff',borderWidth:0.5},
    data:highlighted[i].map(n=>({name:n,value:1,itemStyle:{areaColor:BLUE}}))});
  gfx.push({type:'text',silent:true,style:{text:poweredBy,x:creditAt[i][0],y:creditAt[i][1],align:'right',verticalAlign:'middle',font:'7px "Noto Sans"',fill:'#595959'}});
  gfx.push({type:'text',silent:true,style:{text:credit,x:creditAt[i][0],y:creditAt[i][2],align:'right',verticalAlign:'middle',font:'7px "Noto Sans"',fill:'#595959'}});
});
const chart=echarts.init(document.getElementById('c'),null,{renderer:'canvas'});
chart.setOption({animation:false,backgroundColor:'#fff',title:titleOpts,series:seriesOpts,graphic:gfx});
</script></body></html>
